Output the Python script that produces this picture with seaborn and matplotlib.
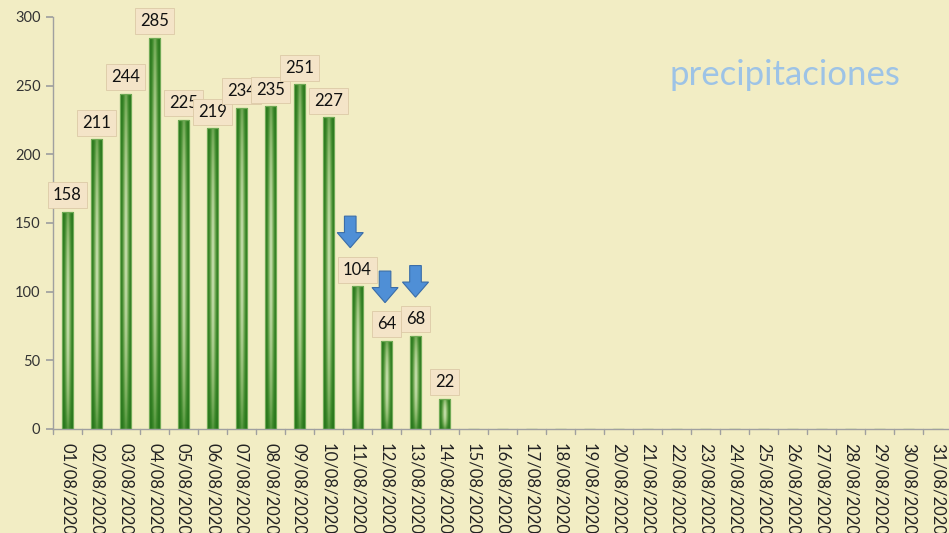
import numpy as np
import pandas as pd
import matplotlib
matplotlib.use("Agg")
import matplotlib.pyplot as plt
import seaborn as sns
from matplotlib.colors import LinearSegmentedColormap
from matplotlib.patches import FancyArrow

dates = [f"{d:02d}/08/2020" for d in range(1, 32)]
values = [158, 211, 244, 285, 225, 219, 234, 235, 251, 227, 104, 64, 68, 22] + [0] * 17
n_labeled = 14
arrow_days = ["11/08/2020", "12/08/2020", "13/08/2020"]
title_text = "precipitaciones"

bg = "#F2EDC4"
sns.set_theme(style="white")
plt.rcParams['font.family'] = ['Lato', 'DejaVu Sans']

fig = plt.figure(figsize=(9.49, 5.33), dpi=100, facecolor=bg)
ax = fig.add_axes([53/949, 1-429/533, (952-53)/949, (429-17)/533])
ax.set_facecolor(bg)

df = pd.DataFrame({"fecha": dates, "mm": values})
sns.barplot(data=df, x="fecha", y="mm", ax=ax, color="#2E7D1E", width=0.40,
            saturation=1, edgecolor="#6FAA55", linewidth=0.9)

# gradient fill for bars
cmap = LinearSegmentedColormap.from_list("g", ["#176810", "#3F8A2C", "#8DBA6E", "#D2E6BA"])
xs = np.linspace(0, 1, 60)
ys = np.linspace(0, 1, 100)
X, Y = np.meshgrid(xs, ys)
fx = 1 - np.abs(2 * X - 1)
gy = 0.25 + 0.75 * np.sin(np.pi * np.clip(Y * 0.85 + 0.05, 0, 1)) ** 0.7
grad = (fx ** 1.1) * gy
for p in ax.patches:
    h = p.get_height()
    if h <= 0:
        continue
    x0 = p.get_x(); w = p.get_width()
    im = ax.imshow(grad, cmap=cmap, extent=[x0, x0 + w, 0, h], origin="lower",
                   aspect="auto", zorder=2, vmin=0, vmax=1, interpolation="bilinear")
    im.set_clip_path(p)
    p.set_zorder(3)
    p.set_facecolor("none")
ax.set_xlim(-0.5, len(dates) - 0.5)
ax.set_ylim(0, 300)

# value labels
for i in range(n_labeled):
    v = values[i]
    ax.annotate(str(v), xy=(i, v), xytext=(0, 12), textcoords="offset points",
                ha="center", va="center", fontsize=12, color="#111111", zorder=6,
                bbox=dict(boxstyle="square,pad=0.3", fc="#F4E4C8", ec="#DCC9A6", lw=0.6))

# arrows
arrow_dx = [-0.25, -0.05, 0.0]
for d, dx in zip(arrow_days, arrow_dx):
    i = dates.index(d)
    v = values[i]
    ax.add_patch(FancyArrow(i + dx, v + 51, 0, -23,
                            width=0.4, head_width=0.9, head_length=11,
                            length_includes_head=True, fc="#4F8FD6", ec="#3A6DA8",
                            lw=0.8, zorder=7))

ax.text(0.814, 0.86, title_text, transform=ax.transAxes, ha="center", va="center",
        fontsize=25, color="#9DC3E6")

ax.set_xlabel(""); ax.set_ylabel("")
ax.set_yticks(range(0, 301, 50))
ax.tick_params(axis="y", length=5, color="#A0A0A0", labelsize=10.5, labelcolor="#333333",
               left=True, pad=4)
ax.set_xticks(range(len(dates)))
ax.set_xticklabels(dates, rotation=270, ha="center", va="top", fontsize=12, color="#222222")
ax.tick_params(axis="x", length=0, pad=10)
for xb in np.arange(-0.5, len(dates), 1.0):
    ax.plot([xb, xb], [0, -4], color="#A0A0A0", lw=1, clip_on=False, zorder=1)

for s in ["top", "right"]:
    ax.spines[s].set_visible(False)
for s in ["left", "bottom"]:
    ax.spines[s].set_color("#A0A0A0")
    ax.spines[s].set_linewidth(1)

fig.savefig("out.png", dpi=100, facecolor=bg)
